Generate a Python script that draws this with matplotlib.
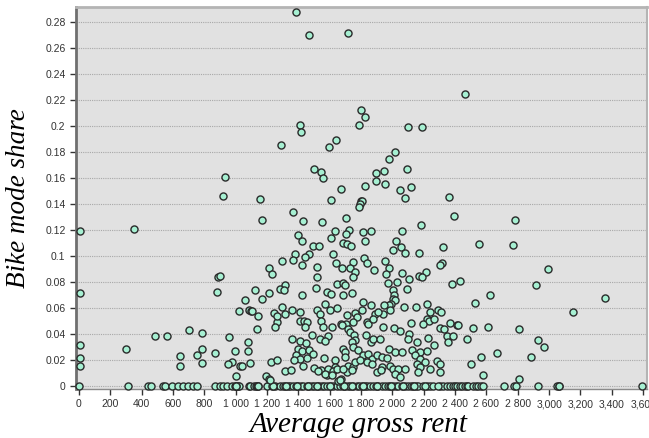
import matplotlib.pyplot as plt
from matplotlib.ticker import FixedLocator

# tracts with a non-zero bike share: average gross rent and share
rent = [
    1385, 1466, 1717, 2464, 1802, 1826, 1787, 1411, 1417, 2100, 2187, 1289, 1598, 1638,
    930, 917, 1157, 1500, 1543, 1557, 1609, 2017, 1981, 2094, 1947, 1896, 1894, 1953,
    1672, 1826, 2121, 2049, 2079, 2364, 1802,
    4, 353, 4, 889, 902, 883, 1023, 485, 564, 702, 783, 957, 4, 300, 4, 4, 645, 645,
    751, 787, 787, 868, 998, 975, 953, 1030, 1004,
    1368, 1170, 1432, 1553, 1634, 1398, 1421, 1610, 1496, 1530, 1381, 1466, 1440, 1368,
    1619, 1640, 1296, 1421, 1215, 1232, 1517, 1521, 1676, 1315, 1285, 1309, 1121, 1211,
    1512, 1581, 1608, 1421, 1645, 1166, 1057, 1572, 1083, 1096, 1141, 1245, 1296, 1315,
    1358, 1411, 1517, 1538, 1600, 1645, 1411, 1436, 1455, 1443, 1266, 1251, 1136, 1542,
    1555, 1617, 1672, 1485, 1587, 1538, 1570, 1362, 1413, 1449, 1081, 1077, 1400, 1421,
    1468, 1387, 1411, 1453, 1491, 1370, 1038, 1089, 1226, 1262, 1430, 1500, 1543, 1566,
    1634, 1634, 1591, 1315, 1353, 1581, 1623, 1191, 1211, 1672, 1651, 1106, 1219, 1262,
    1804, 1794, 1787, 1702, 1723, 1702, 1815, 1866, 1826, 1687, 1709, 1736, 2064, 2185,
    2025, 2055, 2006, 2083, 2172, 2321, 2319, 2304, 1819, 1836, 1751, 1730, 1762, 1751,
    1881, 1951, 1976, 1960, 2062, 2106, 2172, 2217, 2191, 1970, 2027, 2091, 2006, 2013,
    2006, 2017, 1990, 1979, 1687, 1696, 1687, 1745, 1811, 1866, 1947, 1938, 1985, 2072,
    2151, 2219, 2294, 2240, 2219, 2236, 2194, 2266, 2311, 1709, 1762, 1772, 1751, 1704,
    1836, 1847, 1889, 1910, 1879, 1804, 2119, 1938, 2013, 2049, 2106, 2098, 2155, 2225,
    2266, 2304, 2332, 2347, 2357, 1676, 1719, 1730, 1757, 1762, 1741, 1832, 1862, 1879,
    1921, 1687, 1698, 1751, 1783, 1815, 1847, 1868, 1900, 1932, 1964, 1981, 2017, 2060,
    2123, 2177, 2219, 2145, 2177, 2283, 2304, 2209, 2155, 2177, 2166, 1698, 1719, 1751,
    1709, 1741, 1762, 1794, 1836, 1868, 1932, 1985, 2006, 2038, 2017, 2081, 2049, 1900,
    2304, 2240, 1528, 1570, 1613, 1645, 1687, 1666, 1928,
    2391, 2785, 2555, 2768, 2996, 2378, 2430, 2917, 3357, 2625, 2528, 3155, 2368, 2411,
    2421, 2517, 2613, 2808, 2389, 2474, 2932, 2968, 2670, 2568, 2887, 2500, 2581, 2808,
]
share = [
    0.288, 0.270, 0.2715, 0.2246, 0.2123, 0.207, 0.2005, 0.2005, 0.1956, 0.199, 0.199, 0.1856, 0.184, 0.189,
    0.161, 0.146, 0.1436, 0.1667, 0.165, 0.160, 0.143, 0.180, 0.175, 0.167, 0.1654, 0.1636, 0.158, 0.1554,
    0.1518, 0.1538, 0.153, 0.151, 0.1444, 0.1456, 0.1428,
    0.119, 0.1208, 0.0718, 0.084, 0.085, 0.0725, 0.058, 0.039, 0.039, 0.043, 0.041, 0.0377, 0.032, 0.029, 0.0218, 0.0154, 0.023, 0.016,
    0.0243, 0.029, 0.018, 0.026, 0.0274, 0.019, 0.017, 0.016, 0.008,
    0.134, 0.128, 0.1267, 0.1264, 0.1197, 0.116, 0.112, 0.114, 0.108, 0.108, 0.1015, 0.102, 0.0995, 0.097,
    0.1015, 0.095, 0.096, 0.093, 0.091, 0.0867, 0.0915, 0.0844, 0.091, 0.078, 0.075, 0.074, 0.074, 0.072,
    0.0756, 0.0723, 0.0708, 0.070, 0.079, 0.067, 0.066, 0.063, 0.0587, 0.058, 0.0544, 0.0564, 0.0608, 0.0556,
    0.059, 0.057, 0.059, 0.0559, 0.0585, 0.060, 0.050, 0.050, 0.0497, 0.0454, 0.0495, 0.0456, 0.0438, 0.0505,
    0.0454, 0.0454, 0.048, 0.0397, 0.039, 0.0367, 0.0346, 0.036, 0.0351, 0.0336, 0.034, 0.0274, 0.029, 0.027,
    0.028, 0.0238, 0.0213, 0.022, 0.025, 0.0202, 0.016, 0.018, 0.0187, 0.020, 0.0156, 0.014, 0.0123, 0.0215,
    0.020, 0.0149, 0.0136, 0.0118, 0.0123, 0.0085, 0.0115, 0.0077, 0.006, 0.006, 0.0038, 0.058, 0.0046, 0.054,
    0.1425, 0.1398, 0.1377, 0.129, 0.1205, 0.1167, 0.1187, 0.1197, 0.112, 0.1105, 0.109, 0.1077, 0.1192, 0.1236,
    0.1118, 0.1067, 0.1046, 0.1028, 0.1028, 0.107, 0.095, 0.093, 0.0987, 0.0944, 0.0954, 0.091, 0.088, 0.0844,
    0.0892, 0.0964, 0.0913, 0.0862, 0.0872, 0.0823, 0.0849, 0.0882, 0.0844, 0.0797, 0.080, 0.075, 0.0744, 0.0705,
    0.0675, 0.066, 0.0636, 0.0623, 0.0797, 0.078, 0.070, 0.072, 0.0648, 0.0623, 0.0623, 0.0559, 0.0585, 0.061,
    0.061, 0.0636, 0.059, 0.0572, 0.052, 0.050, 0.048, 0.0515, 0.0572, 0.055, 0.056, 0.0533, 0.0495, 0.048,
    0.0495, 0.048, 0.0559, 0.0572, 0.052, 0.0585, 0.0487, 0.0456, 0.0449, 0.0423, 0.0405, 0.0367, 0.034, 0.0374,
    0.0315, 0.0449, 0.0444, 0.039, 0.034, 0.047, 0.0444, 0.0418, 0.0397, 0.0354, 0.034, 0.0397, 0.034, 0.0367,
    0.0367, 0.029, 0.0264, 0.0302, 0.0277, 0.0238, 0.0251, 0.0213, 0.0238, 0.0226, 0.0218, 0.029, 0.0264, 0.0264,
    0.0277, 0.0264, 0.027, 0.0238, 0.0213, 0.0192, 0.0174, 0.0187, 0.0174, 0.0149, 0.011, 0.0226, 0.016, 0.0149,
    0.011, 0.0123, 0.0187, 0.020, 0.0187, 0.0174, 0.0149, 0.016, 0.0136, 0.0136, 0.0097, 0.0136, 0.0072, 0.011,
    0.011, 0.0136, 0.0115, 0.0097, 0.0085, 0.0136, 0.013, 0.0046, 0.0123,
    0.131, 0.1277, 0.109, 0.1085, 0.090, 0.0787, 0.0808, 0.078, 0.0677, 0.0705, 0.0643, 0.0574, 0.0487, 0.0474,
    0.0474, 0.0451, 0.0456, 0.0444, 0.039, 0.036, 0.0354, 0.0305, 0.026, 0.0223, 0.0223, 0.0174, 0.0087, 0.006,
]

# tracts where nobody bikes (share = 0)
rent_zero = [
    0, 313, 442, 457, 538, 549, 596, 634, 666, 698, 729, 751, 868, 900, 921, 943, 974, 996,
    1013, 1023, 1087, 1091, 1119, 1130, 1134, 1145, 1198, 1230, 1251, 1283, 1300, 1315, 1336,
    1350, 1368, 1385, 1400, 1415, 1432, 1453, 1470, 1485, 1500, 1517, 1535, 1549, 1565, 1581,
    1602, 1623, 1645, 1666, 1682, 1698, 1715, 1730, 1751, 1772, 1790, 1804, 1826, 1840, 1858,
    1879, 1895, 1911, 1932, 1953, 1970, 1985, 2006, 2022, 2038, 2060, 2081, 2102, 2120, 2134,
    2150, 2166, 2198, 2219, 2240, 2262, 2304, 2325, 2347, 2368, 2389, 2400, 2411, 2432, 2443,
    2464, 2474, 2485, 2517, 2532, 2549, 2568, 2581, 2715, 2777, 2787, 2932, 3049, 3060, 3066,
    3592, 1000, 1005, 1140, 1240, 1320, 1390, 1460, 1520, 1600, 1690, 1740, 1810, 1900, 1990,
    2070, 2140, 2210, 2290,
]
share_zero = [0.0] * len(rent_zero)

x_ticks = [0, 200, 400, 600, 800, 1000, 1200, 1400, 1600, 1800, 2000, 2200, 2400, 2600,
           2800, 3000, 3200, 3400, 3600]
x_labels = ["0", "200", "400", "600", "800", "1 000", "1 200", "1 400", "1 600", "1 800",
            "2 000", "2 200", "2 400", "2 600", "2 800", "3,000", "3,200", "3,400", "3,600"]
y_ticks = [0, 0.02, 0.04, 0.06, 0.08, 0.1, 0.12, 0.14, 0.16, 0.18, 0.2, 0.22, 0.24, 0.26, 0.28]
y_labels = ["0", "0.02", "0.04", "0.06", "0.08", "0.1", "0.12", "0.14", "0.16", "0.18",
            "0.2", "0.22", "0.24", "0.26", "0.28"]

fig = plt.figure(figsize=(6.49, 4.38), dpi=100)
ax = fig.add_axes([0.117, 0.112, 0.880, 0.872])
ax.set_facecolor("#e1e1e1")

dot = dict(s=26, c="#a6f0d2", edgecolors="#2a2a2a", linewidths=1.0, zorder=3, clip_on=False)
ax.scatter(rent_zero, share_zero, **dot)
ax.scatter(rent, share, **dot)

ax.set_xlim(-19, 3625)
ax.set_ylim(-0.002, 0.2915)

ax.xaxis.set_major_locator(FixedLocator(x_ticks))
ax.set_xticklabels(x_labels)
ax.yaxis.set_major_locator(FixedLocator(y_ticks))
ax.set_yticklabels(y_labels)

ax.yaxis.grid(True, linestyle=(0, (1, 1)), color="#a8a8a8", linewidth=0.8, zorder=0)
ax.set_axisbelow(True)

ax.tick_params(axis="both", labelsize=7.5, colors="#333333", labelcolor="#333333",
               length=4, width=1, direction="out")
for lab in ax.get_xticklabels() + ax.get_yticklabels():
    lab.set_family("Liberation Sans")

ax.spines["left"].set_color("#6f6f6f")
ax.spines["left"].set_linewidth(2)
ax.spines["bottom"].set_color("#8a8a8a")
ax.spines["bottom"].set_linewidth(1)
ax.spines["top"].set_color("#b4b4b4")
ax.spines["top"].set_linewidth(2)
ax.spines["right"].set_color("#b4b4b4")
ax.spines["right"].set_linewidth(1.5)

ax.set_xlabel("Average gross rent", family="Liberation Serif", style="italic",
              fontsize=21, va="center")
ax.set_ylabel("Bike mode share", family="Liberation Serif", style="italic",
              fontsize=19.5, va="center")
ax.xaxis.set_label_coords(0.495, -0.094)
ax.yaxis.set_label_coords(-0.101, 0.5)

fig.savefig("out.png", dpi=100)
